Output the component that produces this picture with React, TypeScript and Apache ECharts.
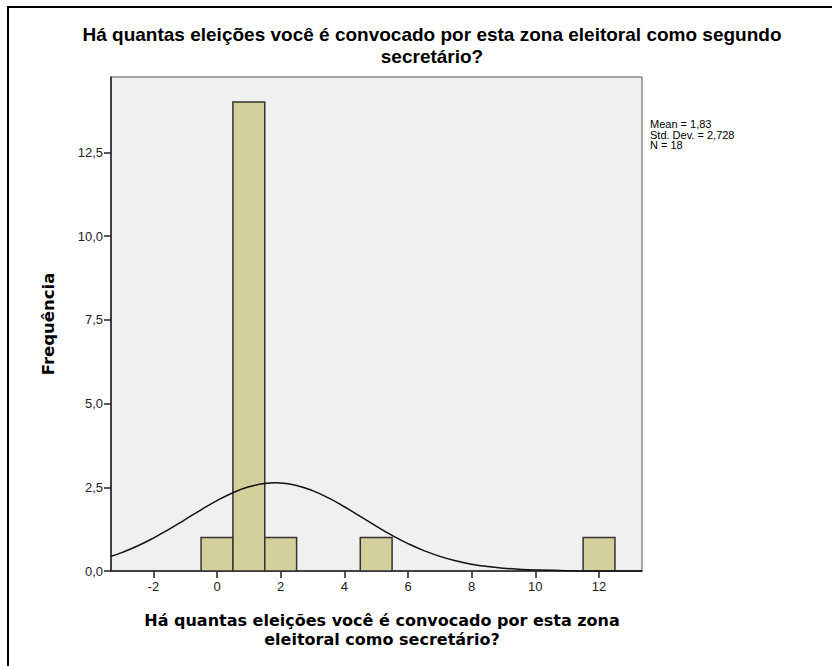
import React, { useEffect, useRef } from "react";
import * as echarts from "echarts";

const titleLines = [
  "Há quantas eleições você é convocado por esta zona eleitoral como segundo",
  "secretário?",
];
const xTitleLines = [
  "Há quantas eleições você é convocado por esta zona",
  "eleitoral como secretário?",
];
const yTitle = "Frequência";
const statsLines = ["Mean = 1,83", "Std. Dev. = 2,728", "N = 18"];

// histogram bins (center value) and counts
const binCenters = [0, 1, 2, 5, 12];
const binCounts = [1, 14, 1, 1, 1];

// normal curve
const curveX = [-3.33, -3, -2.5, -2, -1.5, -1, -0.5, 0, 0.5, 1, 1.5, 1.83, 2, 2.5, 3, 3.5, 4, 4.5, 5, 5.5, 6, 6.5, 7, 7.5, 8, 8.5, 9, 9.5, 10, 11, 12, 13.35];
const curveY = [0.44, 0.549, 0.747, 0.983, 1.25, 1.537, 1.828, 2.102, 2.338, 2.513, 2.613, 2.632, 2.627, 2.554, 2.401, 2.183, 1.919, 1.631, 1.34, 1.065, 0.818, 0.608, 0.437, 0.304, 0.204, 0.132, 0.083, 0.051, 0.03, 0.009, 0.0025, 0.0004];

const xTicks = [-2, 0, 2, 4, 6, 8, 10, 12];
const yTicks = [0, 2.5, 5, 7.5, 10, 12.5];
const xMin = -3.33;
const xMax = 13.35;
const yMax = 14.75;

export default function App() {
  const ref = useRef<HTMLDivElement>(null);
  useEffect(() => {
    document.body.style.margin = "0";
    const chart = echarts.init(ref.current!, null, { renderer: "svg" });
    const fmt = (v: number) => v.toFixed(1).replace(".", ",");
    const textBase = { align: "center", verticalAlign: "middle", fill: "#000" };
    chart.setOption({
      animation: false,
      backgroundColor: "#ffffff",
      grid: {
        left: 111,
        top: 77,
        right: 190,
        bottom: 95,
        show: true,
        backgroundColor: "#f0f0f0",
        borderColor: "#555555",
        borderWidth: 1,
      },
      xAxis: {
        type: "value",
        min: xMin,
        max: xMax,
        axisLine: { show: true, onZero: false, lineStyle: { color: "#222", width: 1.5 } },
        axisTick: { show: true, customValues: xTicks, length: 7, lineStyle: { color: "#222", width: 1.5 } },
        axisLabel: {
          customValues: xTicks,
          color: "#222",
          fontFamily: "Liberation Sans, Arial, sans-serif",
          fontSize: 13,
          margin: 9,
          formatter: (v: number) => String(v),
        },
        splitLine: { show: false },
      },
      yAxis: {
        type: "value",
        min: 0,
        max: yMax,
        axisLine: { show: true, onZero: false, lineStyle: { color: "#222", width: 1.5 } },
        axisTick: { show: true, customValues: yTicks, length: 7, lineStyle: { color: "#222", width: 1.5 } },
        axisLabel: {
          customValues: yTicks,
          color: "#222",
          fontFamily: "Liberation Sans, Arial, sans-serif",
          fontSize: 13,
          margin: 8,
          formatter: (v: number) => fmt(v),
        },
        splitLine: { show: false },
      },
      series: [
        {
          type: "custom",
          data: binCenters.map((c, i) => [c, binCounts[i]]),
          renderItem: (params: any, api: any) => {
            const x = api.value(0);
            const y = api.value(1);
            const p0 = api.coord([x - 0.5, y]);
            const p1 = api.coord([x + 0.5, 0]);
            return {
              type: "rect",
              shape: { x: p0[0], y: p0[1], width: p1[0] - p0[0], height: p1[1] - p0[1] },
              style: { fill: "#d3d09b", stroke: "#333333", lineWidth: 1.5 },
            };
          },
          z: 2,
        },
        {
          type: "line",
          data: curveX.map((x, i) => [x, curveY[i]]),
          smooth: true,
          symbol: "none",
          lineStyle: { color: "#111111", width: 1.5 },
          z: 3,
        },
      ],
      graphic: [
        { type: "line", shape: { x1: 7, y1: 7, x2: 832, y2: 7 }, style: { stroke: "#000", lineWidth: 2 } },
        { type: "line", shape: { x1: 8, y1: 6, x2: 8, y2: 666 }, style: { stroke: "#000", lineWidth: 2 } },
        ...titleLines.map((t, i) => ({
          type: "text",
          x: 432,
          y: 34.5 + i * 22,
          style: {
            ...textBase,
            text: t,
            fontFamily: "Liberation Sans, Arial, sans-serif",
            fontWeight: "bold",
            fontSize: 19,
          },
        })),
        ...statsLines.map((t, i) => ({
          type: "text",
          x: 650,
          y: 124 + i * 10.5,
          style: {
            text: t,
            align: "left",
            verticalAlign: "middle",
            fontFamily: "Liberation Sans, Arial, sans-serif",
            fontSize: 11,
            fill: "#000",
          },
        })),
        ...xTitleLines.map((t, i) => ({
          type: "text",
          x: 382,
          y: 620 + i * 19,
          style: {
            ...textBase,
            text: t,
            fontFamily: "DejaVu Sans, Verdana, sans-serif",
            fontWeight: "bold",
            fontSize: 16,
          },
        })),
        {
          type: "text",
          x: 48,
          y: 324,
          rotation: Math.PI / 2,
          style: {
            ...textBase,
            text: yTitle,
            fontFamily: "DejaVu Sans, Verdana, sans-serif",
            fontWeight: "bold",
            fontSize: 16.5,
          },
        },
      ],
    });
    return () => chart.dispose();
  }, []);
  return <div ref={ref} style={{ width: 832, height: 666 }} />;
}
